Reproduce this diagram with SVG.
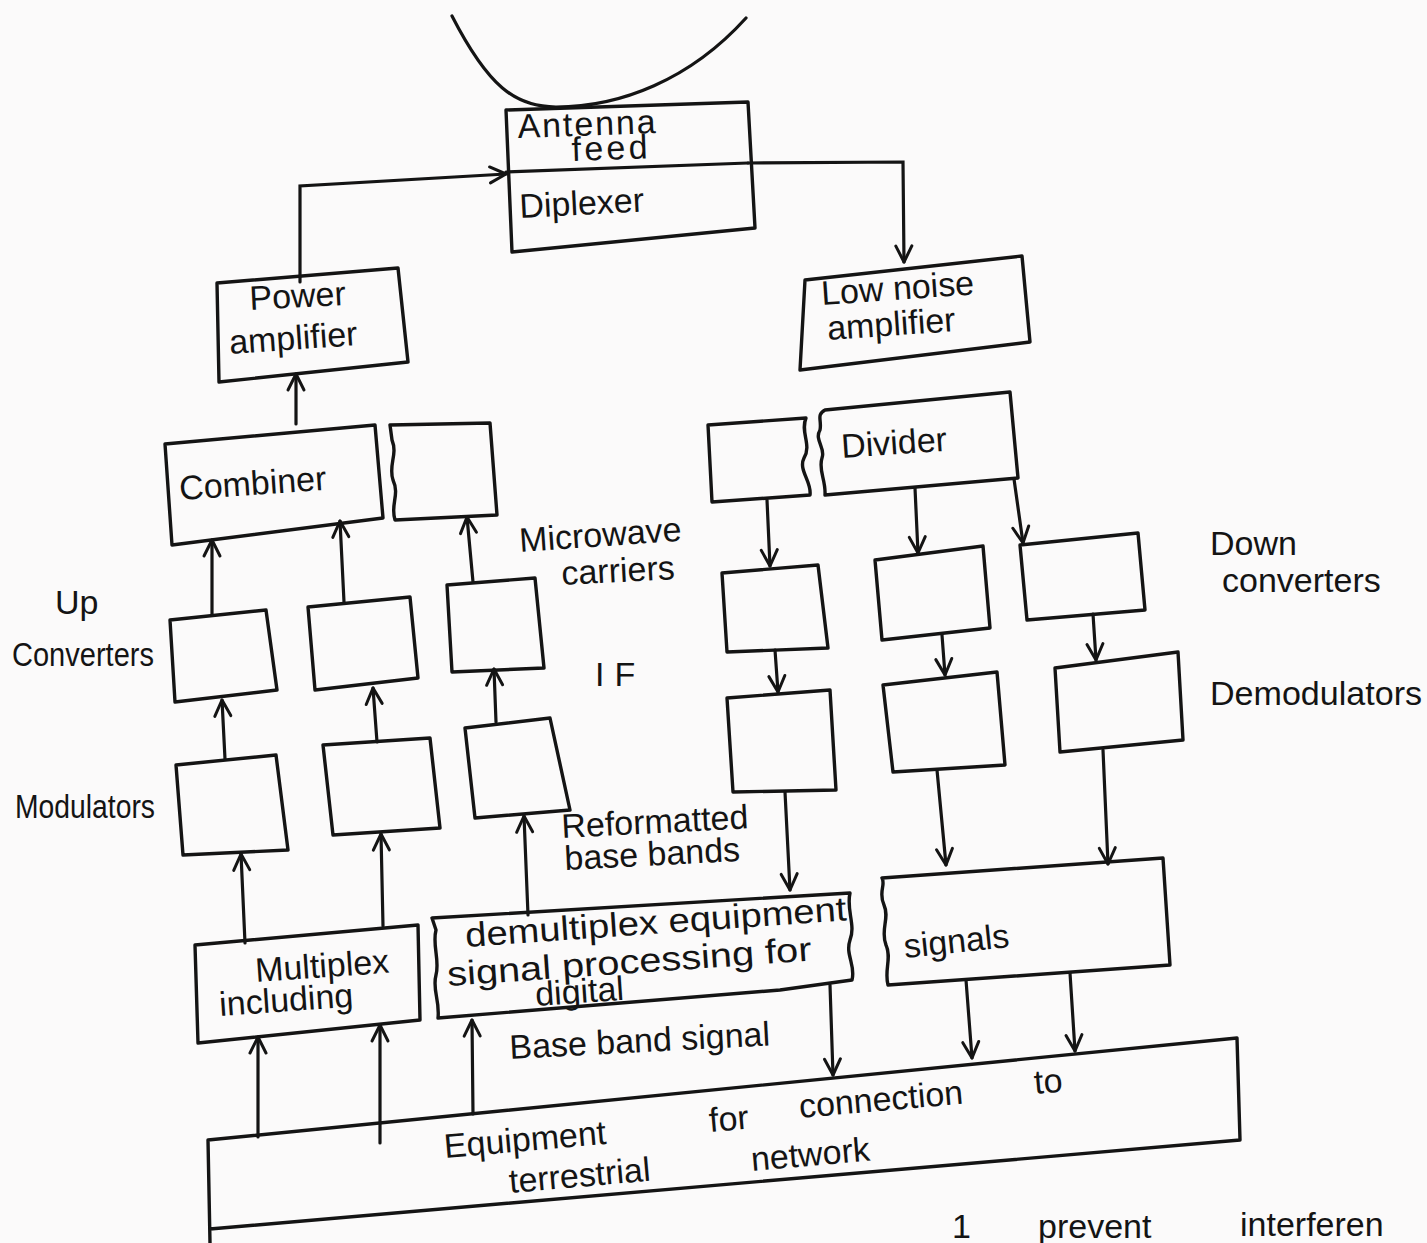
<svg xmlns="http://www.w3.org/2000/svg" width="1427" height="1243" viewBox="0 0 1427 1243">
  <defs>
    <style>
      .box { fill: none; stroke: #141414; stroke-width: 3.4; stroke-linejoin: round; }
      .ln { fill: none; stroke: #141414; stroke-width: 3.2; stroke-linecap: round; }
      .arr { fill: none; stroke: #141414; stroke-width: 3.2; stroke-linecap: round; marker-end: url(#vhead); }
      .t { font-family: "Liberation Sans", "DejaVu Sans", sans-serif; font-size: 34px; fill: #141414; }
    </style>
    <marker id="vhead" viewBox="0 0 20 20" refX="19" refY="10" markerWidth="20" markerHeight="20" markerUnits="userSpaceOnUse" orient="auto" overflow="visible">
      <path d="M3,2 L19,10 L3,18" fill="none" stroke="#141414" stroke-width="3" stroke-linecap="round" stroke-linejoin="round"/>
    </marker>
  </defs>
  <rect width="1427" height="1243" fill="#fbfafa"/>

  <!-- dish reflector -->
  <g id="dish">
    <path class="ln" d="M452,16 C488,86 515,107 556,107 C620,107 690,80 746,18"/>
  </g>

  <!-- antenna feed / diplexer -->
  <g id="antenna-diplexer">
    <polygon class="box" points="506,110 748,102 755,228 512,252"/>
    <line class="ln" x1="506" y1="172" x2="748" y2="163"/>
    <text class="t" x="518" y="138" font-size="25" textLength="138" lengthAdjust="spacing" transform="rotate(-2 518 138)">Antenna</text>
    <text class="t" x="572" y="161" font-size="25" textLength="76" lengthAdjust="spacing" transform="rotate(-2 572 161)">feed</text>
    <text class="t" x="520" y="218" font-size="37" transform="rotate(-3 520 218)">Diplexer</text>
  </g>

  <g id="power-amplifier">
    <polygon class="box" points="217,283 398,268 408,362 219,382"/>
    <text class="t" x="250" y="310" font-size="32" transform="rotate(-3 250 310)">Power</text>
    <text class="t" x="230" y="354" font-size="36" transform="rotate(-4 230 354)">amplifier</text>
  </g>

  <g id="low-noise-amplifier">
    <polygon class="box" points="805,280 1022,256 1030,342 800,370"/>
    <text class="t" x="822" y="305" font-size="36" transform="rotate(-4 822 305)">Low noise</text>
    <text class="t" x="828" y="340" font-size="38" transform="rotate(-4 828 340)">amplifier</text>
  </g>

  <g id="combiner">
    <polygon class="box" points="165,444 375,425 383,518 172,545"/>
    <text class="t" x="180" y="500" font-size="34" transform="rotate(-4 180 500)">Combiner</text>
  </g>
  <g id="combiner-extra">
    <path class="box" d="M390,425 L490,423 L497,515 L395,520 C390,505 400,495 393,480 C388,465 398,455 392,440 Z"/>
  </g>

  <g id="divider-extra">
    <path class="box" d="M708,425 L806,418 C800,432 812,445 804,458 C798,470 812,482 810,495 L712,502 Z"/>
  </g>
  <g id="divider">
    <path class="box" d="M825,410 L1010,392 L1018,478 L825,495 C826,480 818,470 822,458 C826,448 814,440 820,430 C822,420 816,415 825,410 Z"/>
    <text class="t" x="842" y="458" font-size="39" transform="rotate(-4 842 458)">Divider</text>
  </g>

  <!-- up converters -->
  <g id="upconv-1"><polygon class="box" points="170,620 266,610 277,690 175,702"/></g>
  <g id="upconv-2"><polygon class="box" points="308,607 410,597 418,678 315,690"/></g>
  <g id="upconv-3"><polygon class="box" points="447,585 535,578 544,668 452,672"/></g>

  <!-- modulators -->
  <g id="modulator-1"><polygon class="box" points="176,765 276,755 288,850 183,855"/></g>
  <g id="modulator-2"><polygon class="box" points="323,745 430,738 440,828 333,835"/></g>
  <g id="modulator-3"><polygon class="box" points="465,728 550,718 570,810 475,818"/></g>

  <!-- down converters -->
  <g id="downconv-1"><polygon class="box" points="722,573 818,565 828,648 727,652"/></g>
  <g id="downconv-2"><polygon class="box" points="875,560 983,546 990,628 882,640"/></g>
  <g id="downconv-3"><polygon class="box" points="1020,545 1138,533 1145,610 1027,620"/></g>

  <!-- demodulators -->
  <g id="demod-1"><polygon class="box" points="727,698 830,690 836,790 733,792"/></g>
  <g id="demod-2"><polygon class="box" points="883,685 997,672 1005,765 893,772"/></g>
  <g id="demod-3"><polygon class="box" points="1055,668 1178,652 1183,740 1060,752"/></g>

  <g id="multiplex">
    <polygon class="box" points="195,945 418,925 420,1020 198,1043"/>
    <text class="t" x="256" y="982" font-size="34" transform="rotate(-4 256 982)">Multiplex</text>
    <text class="t" x="220" y="1016" font-size="34" transform="rotate(-4 220 1016)">including</text>
  </g>

  <g id="demultiplex">
    <path class="box" d="M432,918 L850,893 C846,910 856,925 850,940 C845,955 856,965 852,980 L780,990 L438,1018 C440,1000 432,990 436,975 C440,960 432,945 436,930 Z"/>
    <text class="t" x="466" y="947" font-size="35" textLength="382" lengthAdjust="spacingAndGlyphs" transform="rotate(-4 466 947)">demultiplex equipment</text>
    <text class="t" x="448" y="986" font-size="35" textLength="365" lengthAdjust="spacingAndGlyphs" transform="rotate(-4 448 986)">signal processing for</text>
    <text class="t" x="536" y="1006" font-size="26" transform="rotate(-4 536 1006)">digital</text>
  </g>

  <g id="signals">
    <path class="box" d="M882,878 L1163,858 L1170,965 L888,985 C884,970 892,958 886,945 C880,930 890,918 884,905 C878,892 886,885 882,878 Z"/>
    <text class="t" x="905" y="958" font-size="41" transform="rotate(-6 905 958)">signals</text>
  </g>

  <g id="terrestrial-equipment">
    <polyline class="box" points="210,1243 208,1140 1237,1038 1240,1140 210,1229"/>
    <text class="t" x="445" y="1158" font-size="40" transform="rotate(-5 445 1158)">Equipment</text>
    <text class="t" x="710" y="1132" font-size="38" transform="rotate(-5 710 1132)">for</text>
    <text class="t" x="800" y="1118" font-size="38" transform="rotate(-5 800 1118)">connection</text>
    <text class="t" x="1035" y="1094" font-size="38" transform="rotate(-5 1035 1094)">to</text>
    <text class="t" x="510" y="1193" font-size="38" transform="rotate(-5 510 1193)">terrestrial</text>
    <text class="t" x="752" y="1171" font-size="38" transform="rotate(-5 752 1171)">network</text>
  </g>

  <!-- free labels -->
  <g id="labels">
    <text class="t" x="55" y="614" font-size="34">Up</text>
    <text class="t" x="12" y="666" font-size="29" textLength="142" lengthAdjust="spacingAndGlyphs">Converters</text>
    <text class="t" x="15" y="818" font-size="28" textLength="140" lengthAdjust="spacingAndGlyphs">Modulators</text>
    <text class="t" x="520" y="552" font-size="36" transform="rotate(-4 520 552)">Microwave</text>
    <text class="t" x="562" y="585" font-size="36" transform="rotate(-3 562 585)">carriers</text>
    <text class="t" x="595" y="686" font-size="40" letter-spacing="10">IF</text>
    <text class="t" x="1210" y="555" font-size="37">Down</text>
    <text class="t" x="1222" y="592" font-size="38">converters</text>
    <text class="t" x="1210" y="705" font-size="33" textLength="212" lengthAdjust="spacingAndGlyphs">Demodulators</text>
    <text class="t" x="562" y="838" font-size="35" transform="rotate(-3 562 838)">Reformatted</text>
    <text class="t" x="565" y="870" font-size="35" transform="rotate(-3 565 870)">base bands</text>
    <text class="t" x="510" y="1059" font-size="33" transform="rotate(-3 510 1059)">Base band signal</text>
    <text class="t" x="952" y="1238" font-size="40">1</text>
    <text class="t" x="1038" y="1238" font-size="42">prevent</text>
    <text class="t" x="1240" y="1236" font-size="40">interferen</text>
  </g>

  <!-- connectors -->
  <g id="connectors">
    <polyline class="arr" points="300,282 300,186 506,174"/>
    <polyline class="arr" points="748,163 903,162 904,262"/>
    <line class="arr" x1="296" y1="424" x2="296" y2="374"/>

    <line class="arr" x1="212" y1="614" x2="212" y2="540"/>
    <line class="arr" x1="344" y1="602" x2="340" y2="521"/>
    <line class="arr" x1="473" y1="582" x2="467" y2="517"/>

    <line class="arr" x1="225" y1="759" x2="222" y2="700"/>
    <line class="arr" x1="377" y1="742" x2="373" y2="688"/>
    <line class="arr" x1="496" y1="722" x2="494" y2="669"/>

    <line class="arr" x1="245" y1="943" x2="241" y2="854"/>
    <line class="arr" x1="383" y1="926" x2="381" y2="834"/>
    <line class="arr" x1="528" y1="915" x2="524" y2="816"/>

    <line class="arr" x1="258" y1="1137" x2="258" y2="1037"/>
    <line class="arr" x1="380" y1="1143" x2="380" y2="1025"/>
    <line class="arr" x1="473" y1="1114" x2="472" y2="1020"/>

    <line class="arr" x1="767" y1="500" x2="770" y2="566"/>
    <line class="arr" x1="915" y1="488" x2="918" y2="553"/>
    <line class="arr" x1="1014" y1="479" x2="1023" y2="543"/>

    <line class="arr" x1="775" y1="650" x2="778" y2="692"/>
    <line class="arr" x1="942" y1="635" x2="945" y2="675"/>
    <line class="arr" x1="1093" y1="614" x2="1096" y2="660"/>

    <line class="arr" x1="785" y1="792" x2="790" y2="890"/>
    <line class="arr" x1="937" y1="770" x2="946" y2="865"/>
    <line class="arr" x1="1103" y1="750" x2="1108" y2="864"/>

    <line class="arr" x1="830" y1="985" x2="833" y2="1075"/>
    <line class="arr" x1="966" y1="980" x2="972" y2="1058"/>
    <line class="arr" x1="1070" y1="973" x2="1075" y2="1051"/>
  </g>
</svg>
